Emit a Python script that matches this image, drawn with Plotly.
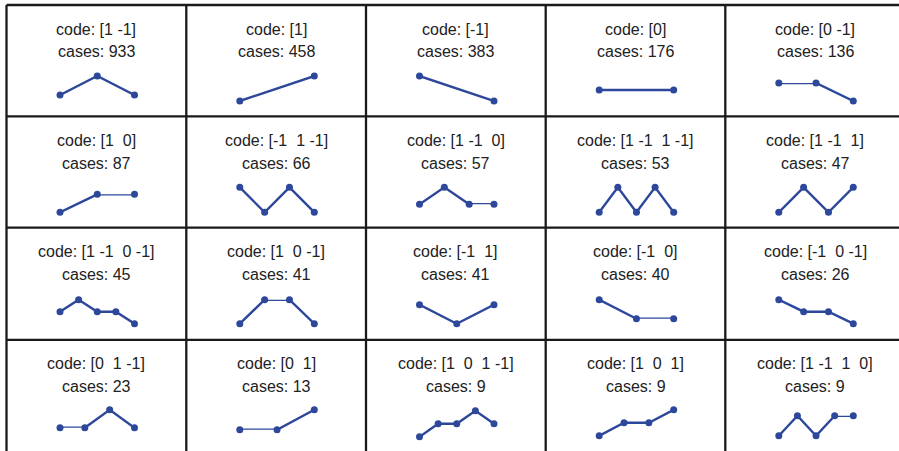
import plotly.graph_objects as go

# Step codes and number of cases for each pattern
codes = [
    [1, -1], [1], [-1], [0], [0, -1],
    [1, 0], [-1, 1, -1], [1, -1, 0], [1, -1, 1, -1], [1, -1, 1],
    [1, -1, 0, -1], [1, 0, -1], [-1, 1], [-1, 0], [-1, 0, -1],
    [0, 1, -1], [0, 1], [1, 0, 1, -1], [1, 0, 1], [1, -1, 1, 0],
]
cases = [933, 458, 383, 176, 136, 87, 66, 57, 53, 47,
         45, 41, 41, 40, 26, 23, 13, 9, 9, 9]

# Page geometry (pixels)
W, H = 899, 451
col_edges = [6.5, 186.3, 366.0, 545.7, 725.3, 905.0]
row_edges = [5.0, 116.3, 227.7, 339.8, 453.5]
# vertical extent of each sparkline inside its cell (offset from cell top)
spark_box = [
    (71, 90), (71, 96), (71, 96), (85, 85), (78, 96),
    (78, 96), (71, 96), (71, 88), (71, 96), (71, 96),
    (72, 96), (72, 96), (77, 96), (72, 91), (72, 96),
    (70, 88), (70, 90), (71, 97), (70, 96), (76, 96),
]
spark_left, spark_right = 53.5, 128.0
code_y, cases_y = 24, 47

LINE_BLUE = "#2d479b"
TEXT = "#222222"
FONT = "Liberation Sans, Arial, sans-serif"


def px(x):
    return x / W


def py(y):
    return 1 - y / H


def fmt_code(arr):
    s = " ".join(f"{v:2d}" for v in arr).lstrip()
    return "[" + s.replace(" ", "\u00a0") + "]"


fig = go.Figure()
layout = dict(
    width=W, height=H,
    margin=dict(l=0, r=0, t=0, b=0),
    paper_bgcolor="white", plot_bgcolor="rgba(0,0,0,0)",
    showlegend=False,
)
annotations = []
shapes = []

for i, (code, n) in enumerate(zip(codes, cases)):
    r, c = divmod(i, 5)
    x0 = col_edges[c]
    y0 = row_edges[r]
    # cumulative path starting from zero
    path = [0]
    for step in code:
        path.append(path[-1] + step)
    xs = list(range(len(path)))

    ax = "" if i == 0 else str(i + 1)
    top, bot = spark_box[i]
    lo, hi = min(path), max(path)
    if lo == hi:
        lo, hi = lo - 1, hi + 1
        top, bot = top - 10, bot + 10

    layout[f"xaxis{ax}"] = dict(
        domain=[px(x0 + spark_left), px(x0 + spark_right)],
        range=[0, len(path) - 1], visible=False, fixedrange=True,
        anchor=f"y{ax}",
    )
    layout[f"yaxis{ax}"] = dict(
        domain=[py(y0 + bot), py(y0 + top)],
        range=[lo, hi], visible=False, fixedrange=True,
        anchor=f"x{ax}",
    )
    fig.add_trace(go.Scatter(
        x=xs, y=path, mode="lines+markers",
        xaxis=f"x{ax}", yaxis=f"y{ax}",
        line=dict(color=LINE_BLUE, width=2.4),
        marker=dict(color=LINE_BLUE, size=7),
        cliponaxis=False, hoverinfo="skip",
    ))

    cx = px((col_edges[c] + col_edges[c + 1]) / 2)
    annotations.append(dict(
        x=cx, y=py(y0 + code_y), xref="paper", yref="paper",
        text="code:\u00a0" + fmt_code(code), showarrow=False,
        xanchor="center", yanchor="middle",
        font=dict(family=FONT, size=16, color=TEXT),
    ))
    annotations.append(dict(
        x=cx, y=py(y0 + cases_y), xref="paper", yref="paper",
        text=f"cases: {n}", showarrow=False,
        xanchor="center", yanchor="middle",
        font=dict(family=FONT, size=16, color=TEXT),
    ))

# grid of cell borders
for x in col_edges:
    shapes.append(dict(type="line", xref="paper", yref="paper",
                       x0=px(x), x1=px(x), y0=py(row_edges[0]), y1=py(row_edges[-1]),
                       line=dict(color="#1a1a1a", width=2.3)))
for y in row_edges:
    shapes.append(dict(type="line", xref="paper", yref="paper",
                       x0=px(col_edges[0]), x1=px(col_edges[-1]), y0=py(y), y1=py(y),
                       line=dict(color="#1a1a1a", width=2.3)))

layout["annotations"] = annotations
layout["shapes"] = shapes
fig.update_layout(**layout)

fig.write_html("out.html", config={"displayModeBar": False})
